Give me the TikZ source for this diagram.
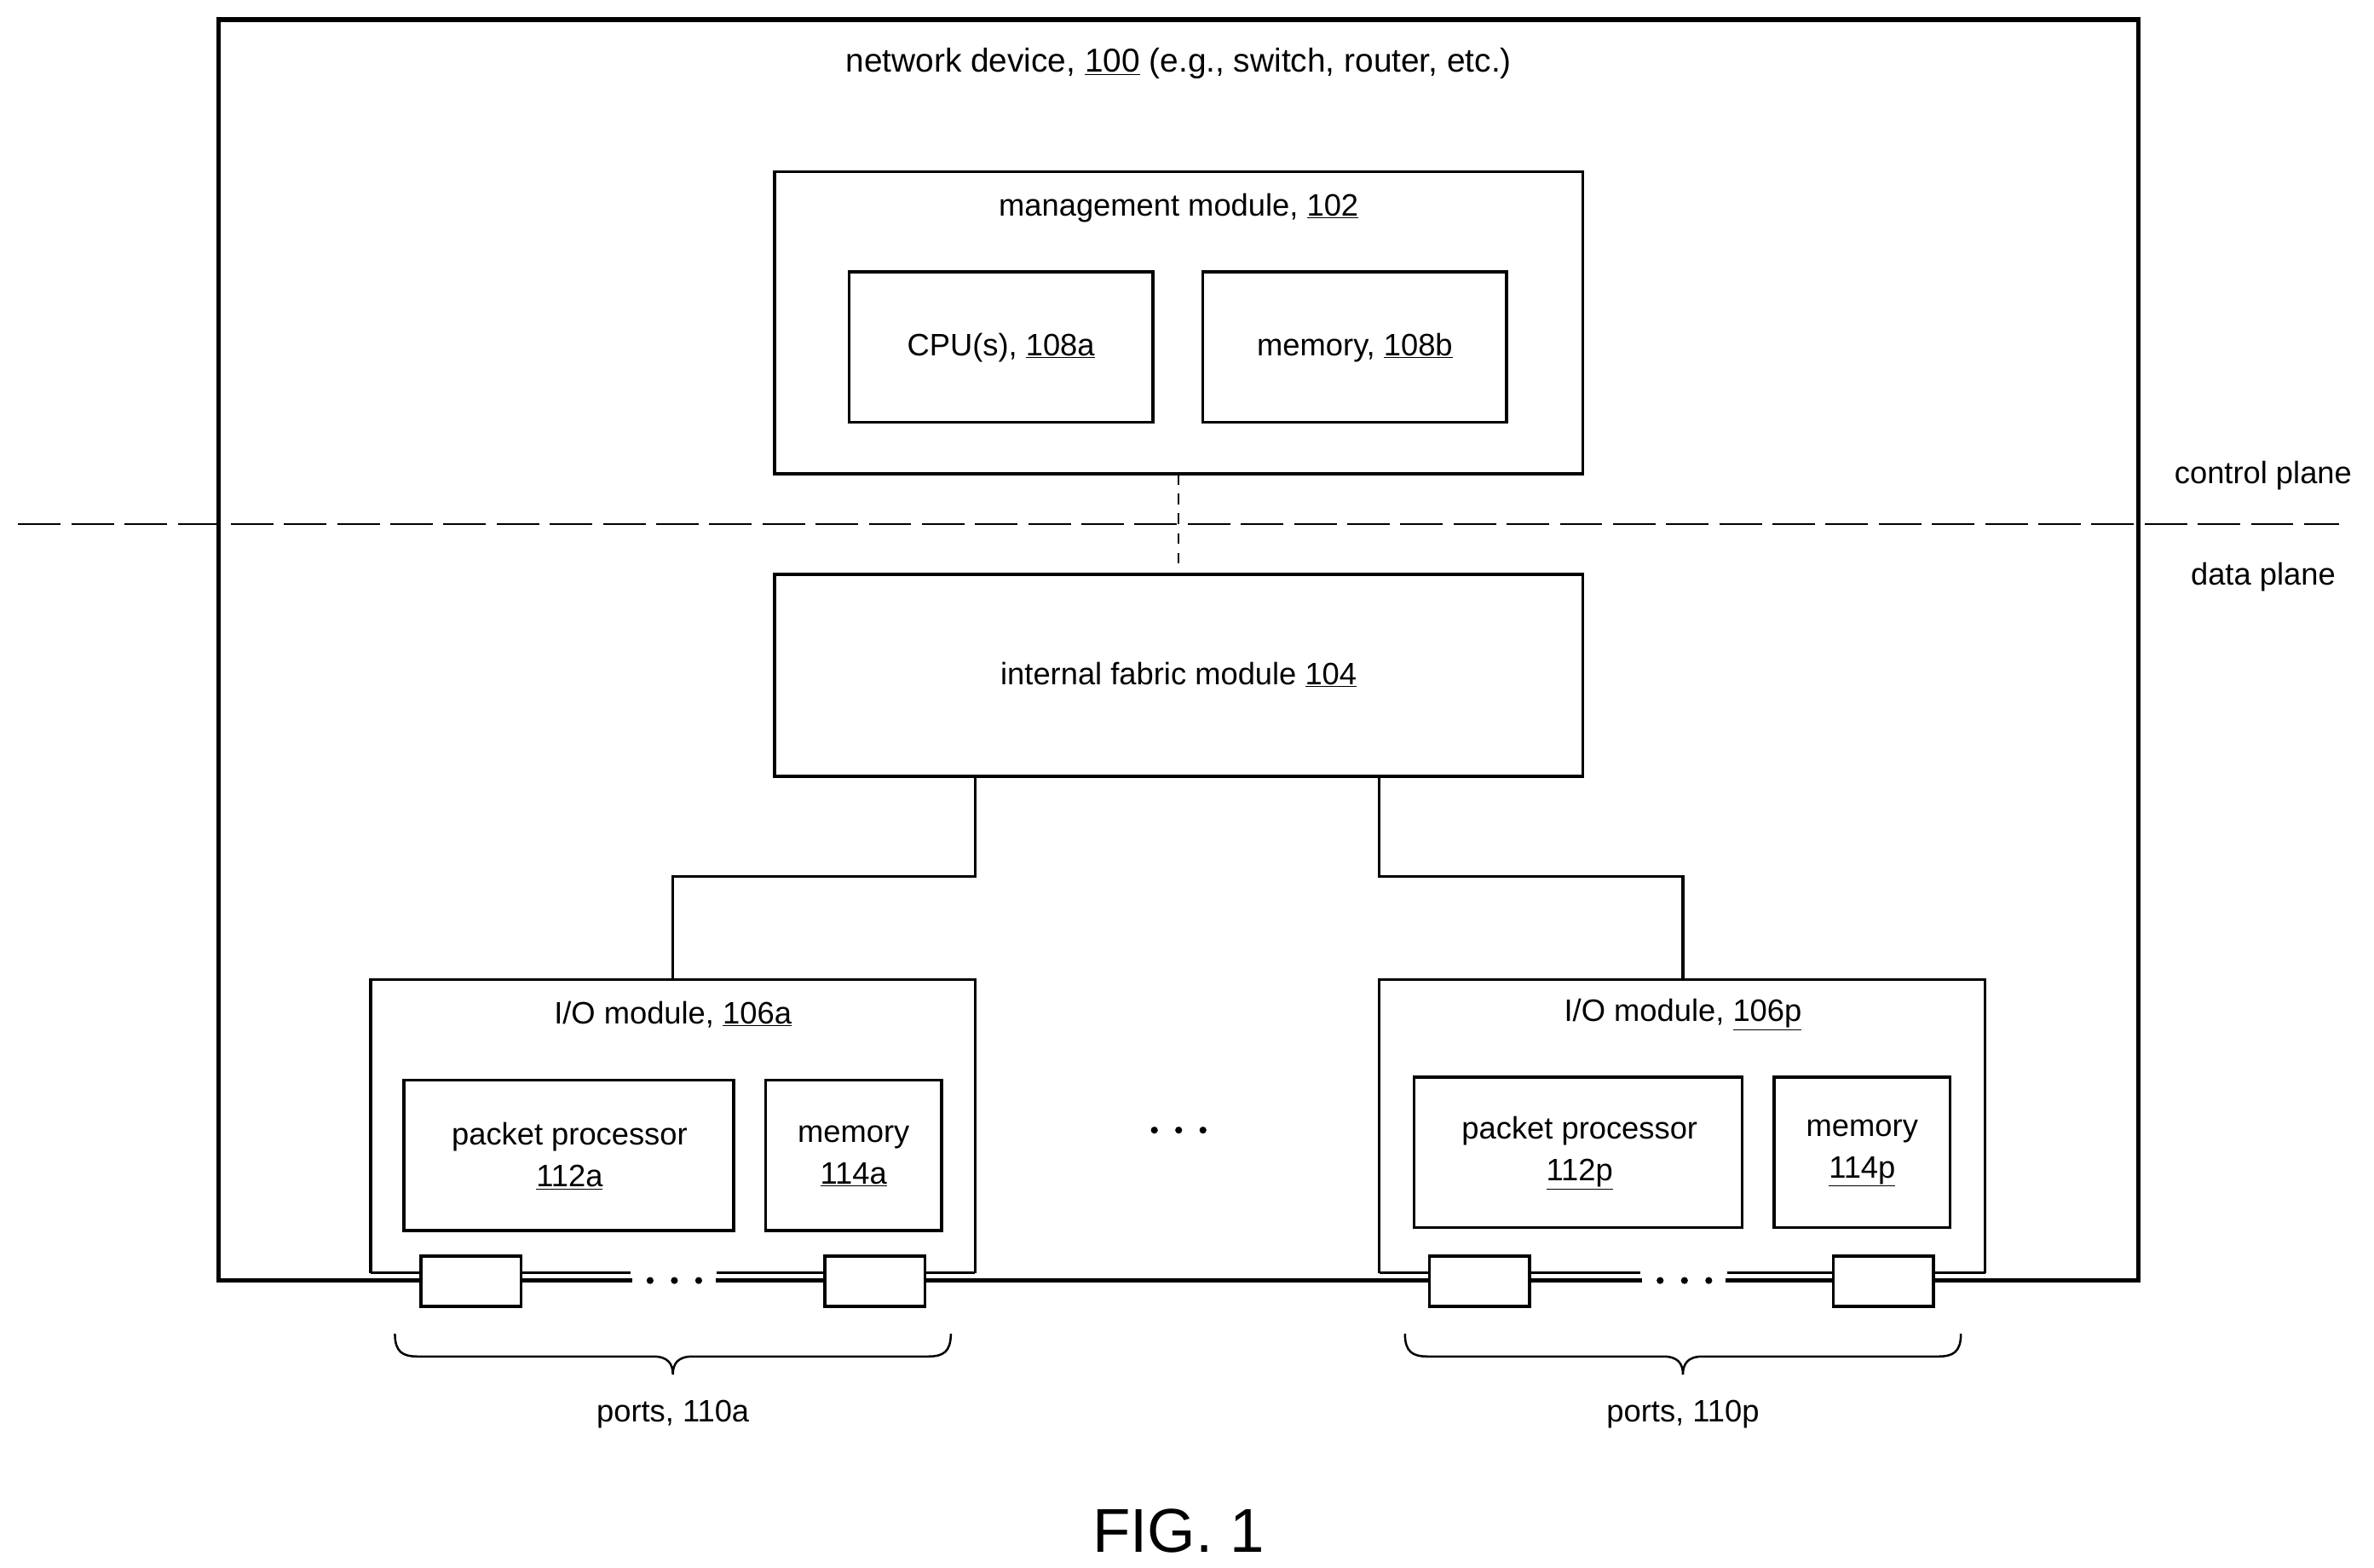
\documentclass[tikz,border=0pt]{standalone}
\usepackage{fontspec}
\setmainfont{Liberation Sans}
\begin{document}
\begin{tikzpicture}[x=0.05cm,y=-0.05cm,
  box/.style={draw,line width=2.8pt},
  conn/.style={line width=2.8pt},
  lbl/.style={font=\fontsize{29}{35}\selectfont,align=center,inner sep=0pt},
  port/.style={draw,line width=2.8pt,fill=white}]
\useasboundingbox (0,0) rectangle (1563,1032);
% outer device
\draw[line width=4.3pt] (144,13) rectangle (1408,843);
\node[lbl,font=\fontsize{31}{36}\selectfont] (dev) at (776,42) {network device, \underline{100} (e.g., switch, router, etc.)};
% management
\draw[box,fill=white] (510,113) rectangle (1042,312);
\coordinate (mgmt) at (776,312);
\node[lbl] (mt) at (776,137) {management module, \underline{102}};
\draw[box] (559,179) rectangle (759,278);
\node[lbl] (cpu) at (659,229) {CPU(s), \underline{108a}};
\draw[box] (792,179) rectangle (992,278);
\node[lbl] (mem) at (892,229) {memory, \underline{108b}};
% planes
\draw[line width=1.8pt,dash pattern=on 1.4cm off 0.35cm] (12,345) -- (1540,345);
\node[lbl] (cp) at (1490,313) {control plane};
\node[lbl] (dp) at (1490,380) {data plane};
% fabric
\coordinate (fab) at (776,378);
\draw[line width=1.8pt,dash pattern=on 0.35cm off 0.3cm] (mgmt) -- (fab);
\draw[box] (510,378) rectangle (1042,511);
\node[lbl] (ft) at (776,444) {internal fabric module \underline{104}};
% connectors
\coordinate (fa) at (642,511); \coordinate (ia) at (443,645);
\coordinate (fp) at (908,511); \coordinate (ip) at (1108,645);
\draw[conn] (fa) -- (642,577) -- (443,577) -- (ia);
\draw[conn] (fp) -- (908,577) -- (1108,577) -- (ip);
% IO a
\draw[box] (244,838) -- (244,645) -- (642,645) -- (642,838);
\draw[conn] (244,838) -- (415,838) (472,838) -- (642,838);
\node[lbl] (ioa) at (443,668) {I/O module, \underline{106a}};
\draw[box] (266,711) rectangle (483,810);
\node[lbl] (ppa) at (375,761) {packet processor\\[4pt]\underline{112a}};
\draw[box] (504,711) rectangle (620,810);
\node[lbl] (ma) at (562,761) {memory\\[4pt]\underline{114a}};
% IO p
\draw[box] (908,838) -- (908,645) -- (1307,645) -- (1307,838);
\draw[conn] (908,838) -- (1080,838) (1137,838) -- (1307,838);
\node[lbl] (iop) at (1108,668) {I/O module, \underline{106p}};
\draw[box] (931,709) rectangle (1147,808);
\node[lbl] (ppp) at (1040,759) {packet processor\\[4pt]\underline{112p}};
\draw[box] (1168,709) rectangle (1284,808);
\node[lbl] (mp) at (1226,759) {memory\\[4pt]\underline{114p}};
% bottom line gaps (white cover for dots)
\fill[white] (416,839.5) rectangle (471,847);
\fill[white] (1081,839.5) rectangle (1136,847);
% ports
\draw[port] (277,827) rectangle (343,860);
\draw[port] (543,827) rectangle (609,860);
\draw[port] (941,827) rectangle (1007,860);
\draw[port] (1207,827) rectangle (1273,860);
\foreach \x in {428,444,460,1093,1109,1125} \fill (\x,843) circle (2.3);
\foreach \x in {760,776,792} \fill (\x,744) circle (2.3);
% braces
\draw[line width=2pt] (260,878) .. controls (260,890) and (265,893) .. (275,893) -- (430,893) .. controls (440,893) and (443,898) .. (443,905) .. controls (443,898) and (446,893) .. (456,893) -- (611,893) .. controls (621,893) and (626,890) .. (626,878);
\draw[line width=2pt] (925,878) .. controls (925,890) and (930,893) .. (940,893) -- (1095,893) .. controls (1105,893) and (1108,898) .. (1108,905) .. controls (1108,898) and (1111,893) .. (1121,893) -- (1276,893) .. controls (1286,893) and (1291,890) .. (1291,878);
\node[lbl] (pa) at (443,931) {ports, 110a};
\node[lbl] (pp) at (1108,931) {ports, 110p};
\node[lbl,font=\fontsize{58}{64}\selectfont] (fig) at (776,1008) {FIG. 1};
\end{tikzpicture}
\end{document}
